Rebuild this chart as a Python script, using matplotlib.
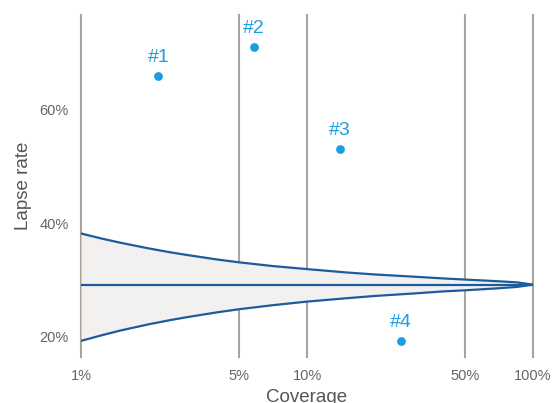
import matplotlib
matplotlib.use('Agg')
import matplotlib.pyplot as plt

# funnel (coverage in %, lapse rate in %)
coverage = [1, 1.25, 1.5, 2, 2.5, 3, 4, 5, 7, 10, 15, 20, 30, 40, 50, 70, 85, 100]
upper = [38.15, 37.2, 36.5, 35.5, 34.8, 34.3, 33.55, 33.05, 32.4, 31.85,
         31.25, 30.9, 30.5, 30.2, 30.0, 29.7, 29.5, 29.1]
lower = [19.15, 20.2, 21.0, 22.1, 22.85, 23.4, 24.2, 24.75, 25.45, 26.1,
         26.7, 27.1, 27.55, 27.9, 28.1, 28.45, 28.7, 29.1]
mean_rate = 29.1

labels = ["#1", "#2", "#3", "#4"]
pt_coverage = [2.2, 5.8, 14.0, 26.1]
pt_rate = [66.0, 71.2, 53.1, 19.1]

xticks = [1, 5, 10, 50, 100]
yticks = [20, 40, 60]

plt.rcParams['font.family'] = ['Liberation Sans', 'DejaVu Sans']

fig = plt.figure(figsize=(5.55, 4.03), dpi=100)
ax = fig.add_axes([81/555, 1 - 357/403, 452/555, 342/403])
ax.set_xscale('log')
ax.set_xlim(1, 100)
ax.set_ylim(16.3, 76.8)

for x in xticks:
    ax.axvline(x, color='#aaa39b', lw=1.5, zorder=1, clip_on=False)

ax.fill_between(coverage, lower, upper, color='#f2f1f0', zorder=2, lw=0)
ax.plot(coverage, upper, color='#1d5c9c', lw=1.6, zorder=3)
ax.plot(coverage, lower, color='#1d5c9c', lw=1.6, zorder=3)
ax.plot([coverage[0], coverage[-1]], [mean_rate, mean_rate], color='#1d5c9c', lw=1.6, zorder=3)

ax.scatter(pt_coverage, pt_rate, s=40, color='#1a9ee0', zorder=4, lw=0)
for lab, x, y in zip(labels, pt_coverage, pt_rate):
    ax.annotate(lab, (x, y), xytext=(0, 10), textcoords='offset points',
                ha='center', va='baseline', fontsize=14, color='#1a9ee0')

ax.set_xticks(xticks)
ax.set_xticklabels([f"{x}%" for x in xticks])
ax.minorticks_off()
ax.set_yticks(yticks)
ax.set_yticklabels([f"{y}%" for y in yticks])
ax.tick_params(length=0, labelsize=10.5, labelcolor='#666666', pad=9)
for s in ax.spines.values():
    s.set_visible(False)

ax.set_xlabel('Coverage', fontsize=13.5, color='#555555', labelpad=4)
ax.set_ylabel('Lapse rate', fontsize=13.5, color='#555555', labelpad=5)

plt.savefig('out.png', dpi=100)
